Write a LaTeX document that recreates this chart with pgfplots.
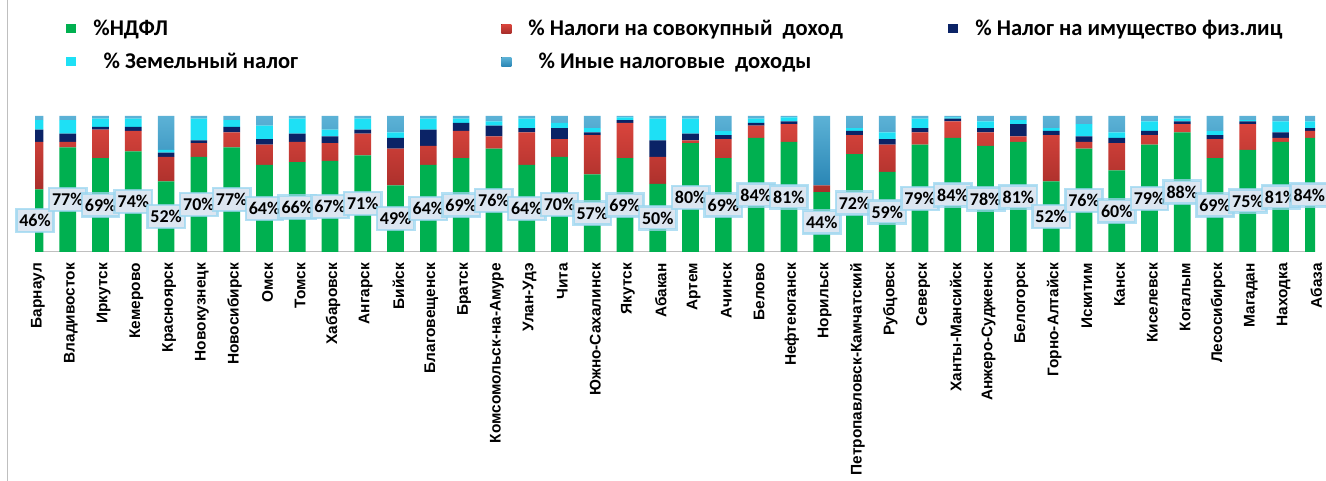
\documentclass[border=0pt]{standalone}
\usepackage{fontspec}
\usepackage{pgfplots}
\usepackage{pgfplotstable}
\pgfplotsset{compat=1.18}
\newfontfamily\carlito{Carlito}
\newfontfamily\arial{Liberation Sans}

\definecolor{cG}{HTML}{00B050}
\definecolor{cRtop}{HTML}{DA453D}
\definecolor{cRbot}{HTML}{A82E2A}
\definecolor{cN}{HTML}{0B2366}
\definecolor{cC}{HTML}{1EE0F5}
\definecolor{cStop}{HTML}{5CB2D6}
\definecolor{cSbot}{HTML}{2A86B5}
\definecolor{lblfill}{HTML}{DCE6F1}
\definecolor{lblglow}{HTML}{9AD6F0}
\definecolor{axgray}{HTML}{BFBFBF}

\pgfplotstableread{
x g r n c s
0 46 35 9 7 3
1 77 4 6 10 3
2 69 21 2 6 2
3 74 15 3 6 2
4 52 18 3 2 25
5 70 10 2 16 2
6 77 11 4 5 3
7 64 15 4 10 7
8 66 15 6 11 2
9 67 13 5 5 10
10 71 16 3 8 2
11 49 27 8 4 12
12 64 14 12 8 2
13 69 20 6 3 2
14 76 9 8 3 4
15 64 24 3 7 2
16 70 13 8 4 5
17 57 29 2 3 9
18 69 26 2 2 1
19 50 20 12 16 2
20 80 2 5 11 2
21 69 14 3 3 11
22 84 9 2 3 2
23 81 13 2 3 1
24 44 5 0 0 51
25 72 14 3 2 9
26 59 20 4 5 12
27 79 9 3 7 2
28 84 12 2 1 1
29 78 10 3 5 4
30 81 4 9 3 3
31 52 34 3 2 9
32 76 5 4 9 6
33 60 20 4 4 12
34 79 7 3 7 4
35 88 6 2 2 2
36 69 14 3 3 11
37 75 19 2 1 3
38 81 3 4 8 4
39 84 5 2 5 4
}\data

\pgfplotsset{sqleg/.style={legend image code/.code={\fill[##1] (0pt,-4.5pt) rectangle (10pt,4.5pt);}}}

\begin{document}
\begin{tikzpicture}
\path[use as bounding box] (0,0) rectangle (1326pt,481pt);
\draw[axgray, line width=1pt] (7pt,0pt) -- (7pt,481pt);
\begin{axis}[
  at={(35pt,229pt)}, anchor=south west,
  scale only axis, width=1280pt, height=136pt,
  xmin=0, xmax=39.05, ymin=0, ymax=100,
  ybar stacked, bar width=16.7pt,
  axis x line*=bottom, axis y line=none,
  x axis line style={draw=axgray, line width=1pt, -},
  xtick=data, major tick length=0pt, ytick=\empty,
  xticklabels={Барнаул,Владивосток,Иркутск,Кемерово,Красноярск,Новокузнецк,Новосибирск,Омск,Томск,Хабаровск,Ангарск,Бийск,Благовещенск,Братск,Комсомольск-на-Амуре,Улан-Удэ,Чита,Южно-Сахалинск,Якутск,Абакан,Артем,Ачинск,Белово,Нефтеюганск,Норильск,Петропавловск-Камчатский,Рубцовск,Северск,Ханты-Мансийск,Анжеро-Судженск,Белогорск,Горно-Алтайск,Искитим,Канск,Киселевск,Когалым,Лесосибирск,Магадан,Находка,Абаза},
  xticklabel style={yshift=-11pt, xshift=3pt, rotate=90, anchor=east, inner sep=0pt, font=\arial\bfseries\fontsize{15.4}{15.4}\selectfont, text=black},
  legend columns=3,
  legend style={at={(0.022,1.735)}, anchor=north west, draw=none, fill=none, font=\carlito\bfseries\fontsize{22.5}{26}\selectfont, row sep=12pt},
  legend cell align=left,
]
\addplot[fill=cG, draw=none, sqleg] table[x=x,y=g]{\data};
\addlegendentry{\makebox[421pt][l]{\hspace{15pt}\%НДФЛ}}
\addplot[top color=cRtop, bottom color=cRbot, draw=none, sqleg] table[x=x,y=r]{\data};
\addlegendentry{\makebox[433pt][l]{\hspace{15pt}\% Налоги на совокупный\ \ доход}}
\addplot[fill=cN, draw=none, sqleg] table[x=x,y=n]{\data};
\addlegendentry{\hspace{15pt}\% Налог на имущество физ.лиц}
\addplot[fill=cC, draw=none, sqleg] table[x=x,y=c]{\data};
\addlegendentry{\makebox[421pt][l]{\hspace{15pt}\ \ \% Земельный налог}}
\addplot[top color=cStop, bottom color=cSbot, draw=none, sqleg] table[x=x,y=s]{\data};
\addlegendentry{\makebox[433pt][l]{\hspace{15pt}\ \ \% Иные налоговые\ \ доходы}}
\end{axis}
\begin{axis}[
  at={(35pt,229pt)}, anchor=south west,
  scale only axis, width=1280pt, height=136pt,
  xmin=0, xmax=39.05, ymin=0, ymax=100,
  hide axis, clip=false,
]
\addplot[only marks, mark=*, mark size=0pt, mark options={draw=none, fill=none},
  point meta=explicit,
  visualization depends on={\thisrow{x} \as \xx},
  nodes near coords={\pgfmathprintnumber[assume math mode=true]{\pgfplotspointmeta}\%},
  every node near coord/.style={anchor=center, xshift={-4*(\xx>38.5)}, fill=lblfill, draw=lblglow, line width=2.5pt, draw opacity=0.75, inner xsep=3pt, inner ysep=2pt, minimum height=23pt, text=black, font=\carlito\bfseries\fontsize{18}{18}\selectfont},
] table[x=x, y expr=\thisrow{g}/2, meta=g]{\data};
\end{axis}
\end{tikzpicture}
\end{document}
